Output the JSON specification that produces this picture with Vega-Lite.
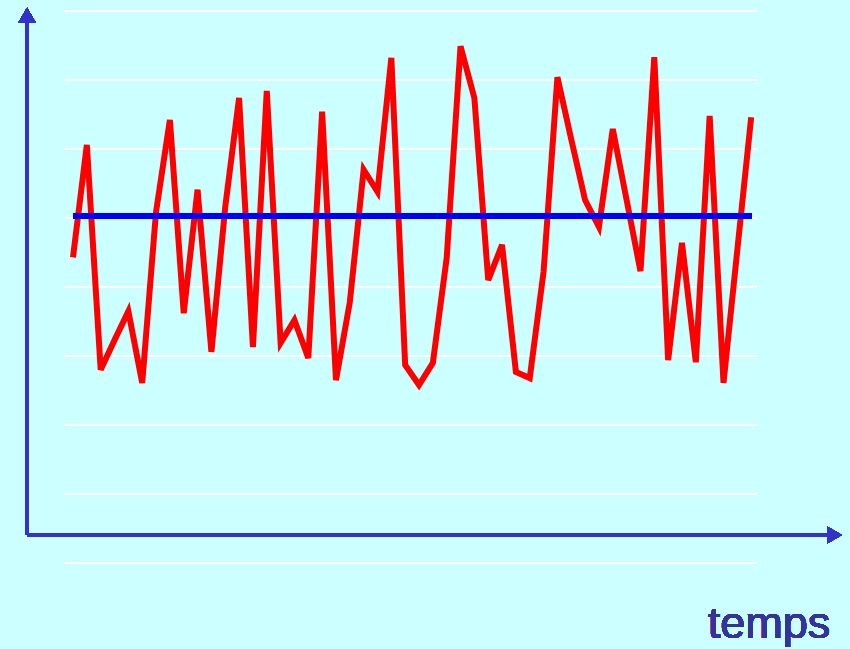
{
  "$schema": "https://vega.github.io/schema/vega-lite/v6.json",
  "autosize": {"type": "fit", "contains": "padding"},
  "width": 850,
  "height": 649,
  "padding": 0,
  "background": "#ccffff",
  "config": {"view": {"stroke": null}},
  "datasets": {
    "serie": [
      {"t": 0, "v": 4.43}, {"t": 1, "v": 6.06}, {"t": 2, "v": 2.80}, {"t": 3, "v": 3.23}, {"t": 4, "v": 3.65},
      {"t": 5, "v": 2.61}, {"t": 6, "v": 5.09}, {"t": 7, "v": 6.42}, {"t": 8, "v": 3.62}, {"t": 9, "v": 5.41},
      {"t": 10, "v": 3.06}, {"t": 11, "v": 5.16}, {"t": 12, "v": 6.74}, {"t": 13, "v": 3.13}, {"t": 14, "v": 6.84},
      {"t": 15, "v": 3.19}, {"t": 16, "v": 3.52}, {"t": 17, "v": 2.97}, {"t": 18, "v": 6.54}, {"t": 19, "v": 2.65},
      {"t": 20, "v": 3.78}, {"t": 21, "v": 5.70}, {"t": 22, "v": 5.38}, {"t": 23, "v": 7.32}, {"t": 24, "v": 2.87},
      {"t": 25, "v": 2.58}, {"t": 26, "v": 2.90}, {"t": 27, "v": 4.42}, {"t": 28, "v": 7.49}, {"t": 29, "v": 6.74},
      {"t": 30, "v": 4.10}, {"t": 31, "v": 4.61}, {"t": 32, "v": 2.77}, {"t": 33, "v": 2.68}, {"t": 34, "v": 4.22},
      {"t": 35, "v": 7.04}, {"t": 36, "v": 6.14}, {"t": 37, "v": 5.26}, {"t": 38, "v": 4.87}, {"t": 39, "v": 6.29},
      {"t": 40, "v": 5.26}, {"t": 41, "v": 4.23}, {"t": 42, "v": 7.33}, {"t": 43, "v": 2.94}, {"t": 44, "v": 4.64},
      {"t": 45, "v": 2.91}, {"t": 46, "v": 6.48}, {"t": 47, "v": 2.61}, {"t": 48, "v": 4.54}, {"t": 49, "v": 6.46}
    ],
    "grille": [
      {"g": 0}, {"g": 1}, {"g": 2}, {"g": 3}, {"g": 4}, {"g": 5}, {"g": 6}, {"g": 7}, {"g": 8}
    ]
  },
  "layer": [
    {
      "data": {"name": "grille"},
      "mark": {"type": "rule", "color": "#ffffff", "strokeWidth": 2},
      "encoding": {
        "y": {"field": "g", "type": "quantitative", "axis": null, "scale": {"domain": [-1.246, 8.159], "nice": false, "zero": false}},
        "x": {"datum": -0.58, "type": "quantitative", "axis": null, "scale": {"domain": [-5.275, 56.14], "nice": false, "zero": false}},
        "x2": {"datum": 49.42}
      }
    },
    {
      "data": {"name": "serie"},
      "mark": {"type": "rule", "color": "#3333cc", "strokeWidth": 3},
      "encoding": {
        "x": {"datum": -3.32, "type": "quantitative", "axis": null, "scale": {"domain": [-5.275, 56.14], "nice": false, "zero": false}},
        "y": {"datum": 0.406, "type": "quantitative", "axis": null, "scale": {"domain": [-1.246, 8.159], "nice": false, "zero": false}},
        "y2": {"datum": 7.85}
      }
    },
    {
      "data": {"name": "serie"},
      "mark": {"type": "rule", "color": "#3333cc", "strokeWidth": 3},
      "encoding": {
        "x": {"datum": -3.32, "type": "quantitative", "axis": null, "scale": {"domain": [-5.275, 56.14], "nice": false, "zero": false}},
        "x2": {"datum": 54.6},
        "y": {"datum": 0.406, "type": "quantitative", "axis": null, "scale": {"domain": [-1.246, 8.159], "nice": false, "zero": false}}
      }
    },
    {
      "data": {"name": "serie"},
      "mark": {"type": "point", "shape": "triangle-up", "filled": true, "color": "#3333cc", "size": 290, "opacity": 1},
      "encoding": {
        "x": {"datum": -3.32, "type": "quantitative", "axis": null, "scale": {"domain": [-5.275, 56.14], "nice": false, "zero": false}},
        "y": {"datum": 7.94, "type": "quantitative", "axis": null, "scale": {"domain": [-1.246, 8.159], "nice": false, "zero": false}}
      }
    },
    {
      "data": {"name": "serie"},
      "mark": {"type": "point", "shape": "triangle-right", "filled": true, "color": "#3333cc", "size": 290, "opacity": 1},
      "encoding": {
        "x": {"datum": 55.02, "type": "quantitative", "axis": null, "scale": {"domain": [-5.275, 56.14], "nice": false, "zero": false}},
        "y": {"datum": 0.406, "type": "quantitative", "axis": null, "scale": {"domain": [-1.246, 8.159], "nice": false, "zero": false}}
      }
    },
    {
      "data": {"name": "serie"},
      "mark": {"type": "line", "color": "#ff0000", "strokeWidth": 6},
      "encoding": {
        "x": {"field": "t", "type": "quantitative", "axis": null, "scale": {"domain": [-5.275, 56.14], "nice": false, "zero": false}},
        "y": {"field": "v", "type": "quantitative", "axis": null, "scale": {"domain": [-1.246, 8.159], "nice": false, "zero": false}}
      }
    },
    {
      "data": {"name": "serie"},
      "mark": {"type": "rule", "color": "#0000ff", "strokeWidth": 6},
      "encoding": {
        "x": {"datum": 0, "type": "quantitative", "axis": null, "scale": {"domain": [-5.275, 56.14], "nice": false, "zero": false}},
        "x2": {"datum": 49},
        "y": {"datum": 5.03, "type": "quantitative", "axis": null, "scale": {"domain": [-1.246, 8.159], "nice": false, "zero": false}}
      }
    },
    {
      "data": {"name": "serie"},
      "mark": {"type": "text", "text": "temps", "font": "Liberation Sans", "fontSize": 45, "fontWeight": "normal", "fill": "#333399", "stroke": null, "align": "center", "baseline": "alphabetic"},
      "encoding": {
        "x": {"datum": 50.29, "type": "quantitative", "axis": null, "scale": {"domain": [-5.275, 56.14], "nice": false, "zero": false}},
        "y": {"datum": -1.087, "type": "quantitative", "axis": null, "scale": {"domain": [-1.246, 8.159], "nice": false, "zero": false}}
      }
    }
  ]
}
